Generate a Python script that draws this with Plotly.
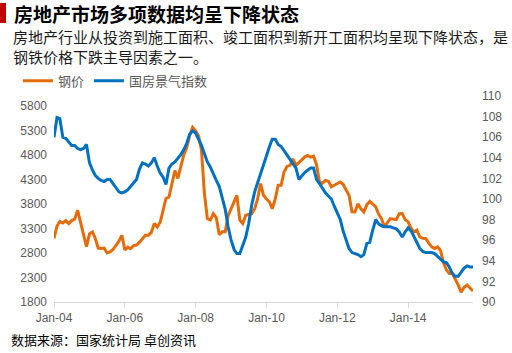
import pandas as pd
import plotly.graph_objects as go

title = "房地产市场多项数据均呈下降状态"
subtitle = "房地产行业从投资到施工面积、竣工面积到新开工面积均呈现下降状态，是<br>钢铁价格下跌主导因素之一。"
source = "数据来源：国家统计局 卓创资讯"
series_names = ["钢价", "国房景气指数"]
start_month = "2004-01-01"

steel_price = [
    3095, 3350, 3440, 3410, 3460, 3400, 3460, 3490, 3670, 3430, 3160, 2930,
    3190, 3230, 3100, 2900, 2890, 2900, 2800, 2820, 2870, 2960, 3040, 3160,
    2860, 2920, 2890, 2950, 2960, 3020, 3090, 3160, 3160, 3220, 3400, 3330,
    3430, 3700, 3910, 3940, 4210, 4480, 4320, 4560, 4800, 4950, 5200, 5360,
    5290, 5190, 4900, 4000, 3500, 3470, 3600, 3520, 3170, 3230, 3230, 3560,
    3700, 3830, 3975, 3470, 3400, 3570, 3580, 3600, 3700, 3900, 4213, 3975,
    3900, 3839, 3700, 3900, 4180, 4180, 4450, 4565, 4585, 4720, 4585, 4640,
    4690, 4760, 4790, 4755, 4775, 4600, 4250, 4220, 4280, 4260, 4150, 4180,
    4213, 4246, 4200, 4077, 3975, 3640, 3636, 3800, 3700, 3636, 3780, 3850,
    3800, 3740, 3600, 3500, 3331, 3430, 3500, 3490, 3480, 3600, 3603, 3480,
    3433, 3300, 3230, 3264, 3128, 3100, 3095, 3000, 2924, 2892, 2924, 2850,
    2600, 2451, 2383, 2383, 2280, 2150, 2000, 2100, 2146, 2090, 2023,
]

climate_index = [
    106.0, 107.9, 107.8, 106.0, 105.9, 105.5, 105.2, 105.2, 104.9, 104.8, 104.9, 105.3,
    103.5, 102.8, 102.3, 102.0, 101.8, 101.7, 101.9, 101.9, 101.5, 101.1, 100.7, 100.6,
    100.7, 100.9, 101.2, 101.6, 101.9, 102.9, 103.5, 103.4, 103.2, 103.5, 104.0, 103.2,
    102.5, 102.1, 101.4, 103.0, 103.4, 103.6, 103.9, 104.3, 104.8, 105.4, 106.3, 106.6,
    106.4, 105.8, 105.2, 104.4, 103.6, 103.1, 102.4, 101.8, 101.2, 100.0, 99.0, 97.3,
    96.0, 95.1, 94.7, 94.7, 95.4, 96.3, 97.6, 99.4, 100.7, 101.6, 102.5, 103.4,
    104.3, 105.1, 105.8, 105.8, 105.3, 105.1, 104.7, 104.3, 103.8, 103.5, 103.0, 101.9,
    102.3, 102.6, 102.8, 103.0, 103.0, 101.9, 101.5, 101.0, 100.6, 100.3, 100.0, 99.3,
    98.6, 98.0, 96.9, 96.0, 95.2, 94.8, 94.7, 94.6, 94.4, 94.6, 95.7, 95.8,
    97.0, 98.0, 97.6, 97.4, 97.3, 97.3, 97.3, 97.2, 97.1, 96.8, 96.3, 96.8,
    97.2, 96.9, 96.4, 95.8, 95.2, 94.9, 94.8, 94.8, 94.8, 94.7, 94.4, 94.1,
    93.9, 93.8, 93.4, 92.8, 92.5, 92.5, 92.9, 93.3, 93.5, 93.4, 93.4,
]

left_ticks = [1800, 2300, 2800, 3300, 3800, 4300, 4800, 5300, 5800]
right_ticks = [90, 92, 94, 96, 98, 100, 102, 104, 106, 108, 110]

dates = pd.date_range(start_month, periods=len(steel_price), freq="MS")

ORANGE = "#e46c0a"
BLUE = "#0070c0"
GRAY = "#595959"
AXIS = "#d9d9d9"
FONT = "Noto Sans CJK SC, Liberation Sans, sans-serif"

fig = go.Figure()
fig.add_trace(go.Scatter(x=dates, y=steel_price, name=series_names[0], mode="lines",
                         line=dict(color=ORANGE, width=3), yaxis="y"))
fig.add_trace(go.Scatter(x=dates, y=climate_index, name=series_names[1], mode="lines",
                         line=dict(color=BLUE, width=3), yaxis="y2"))

fig.update_layout(
    width=512, height=353,
    margin=dict(l=54, r=39, t=96, b=51, autoexpand=False),
    paper_bgcolor="white", plot_bgcolor="white",
    font=dict(family=FONT, color=GRAY, size=12),
    showlegend=True,
    legend=dict(orientation="h", xref="container", yref="container",
                x=0.035, y=1 - 80.7 / 353, xanchor="left", yanchor="middle",
                font=dict(size=13, color=GRAY), bgcolor="rgba(0,0,0,0)",
                itemwidth=30, tracegroupgap=0),
    xaxis=dict(
        type="date", range=[dates[0], dates[-1]],
        tick0=start_month, dtick="M24", tickformat="%b-%y",
        showgrid=False, zeroline=False,
        showline=True, linecolor=AXIS, linewidth=1,
        ticks="outside", ticklen=5, tickcolor=AXIS, tickwidth=1,
        tickfont=dict(family="Liberation Sans, Arial", size=12, color=GRAY),
    ),
    yaxis=dict(
        range=[1800, 6000], tickvals=left_ticks,
        showgrid=False, zeroline=False, showline=False,
        ticklabelstandoff=6,
        tickfont=dict(family="Liberation Sans, Arial", size=12, color=GRAY),
    ),
    yaxis2=dict(
        range=[90, 110], tickvals=right_ticks, overlaying="y", side="right",
        showgrid=False, zeroline=False, showline=False,
        ticklabelstandoff=8,
        tickfont=dict(family="Liberation Sans, Arial", size=12, color=GRAY),
    ),
    shapes=[dict(type="rect", xref="paper", yref="paper",
                 x0=-54 / 419, x1=-48 / 419,
                 y0=1 + (96 - 23) / 206, y1=1 + (96 - 3) / 206,
                 fillcolor="#c00000", line=dict(width=0))],
    annotations=[
        dict(text="<b>" + title + "</b>", xref="paper", yref="paper",
             x=-42 / 419, y=1 + (96 - 13.5) / 206, xanchor="left", yanchor="middle",
             showarrow=False, font=dict(size=19, color="#000000", family=FONT)),
        dict(text=subtitle, xref="paper", yref="paper", align="left",
             x=-43 / 419, y=1 + (96 - 46.5) / 206, xanchor="left", yanchor="middle",
             showarrow=False, font=dict(size=15, color="#1a1a1a", family=FONT)),
        dict(text=source, xref="paper", yref="paper",
             x=-45 / 419, y=-(339 - 302) / 206, xanchor="left", yanchor="middle",
             showarrow=False, font=dict(size=13, color="#000000", family=FONT)),
    ],
)

fig.write_html("out.html")
